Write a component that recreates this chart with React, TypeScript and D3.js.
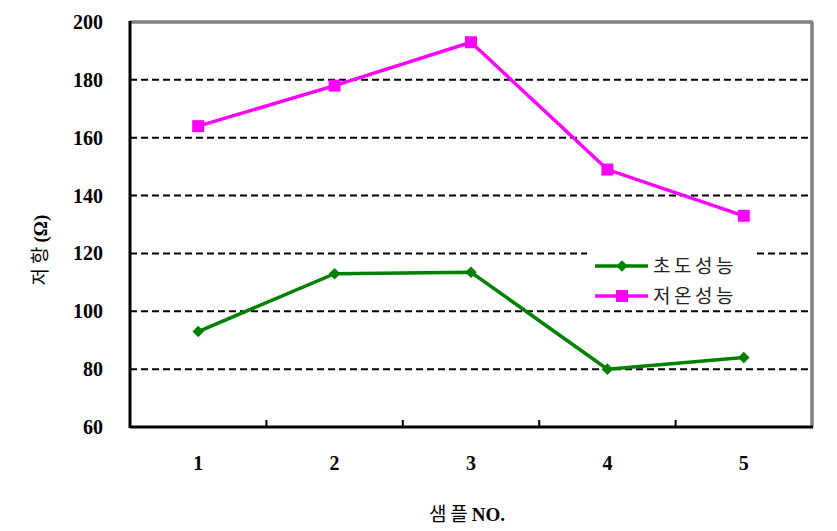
import React from 'react';
import * as d3 from 'd3';

// chart data
const samples = ['1', '2', '3', '4', '5'];
const initialPerf = [93, 113, 113.5, 80, 84];
const lowTempPerf = [164, 178, 193, 149, 133];
const yTicks = [60, 80, 100, 120, 140, 160, 180, 200];
const seriesNames = ['초도성능', '저온성능'];

const W = 837;
const H = 531;
const plot = { left: 130, right: 812, top: 22, bottom: 427 };

const GREEN = '#008000';
const PINK = '#FF00FF';
const serif = '"Liberation Serif", "Times New Roman", serif';
const kr = '"Noto Sans CJK KR", sans-serif';

export default function App() {
  const x = d3.scaleBand<string>().domain(samples).range([plot.left, plot.right]).padding(0);
  const y = d3.scaleLinear().domain([60, 200]).range([plot.bottom, plot.top]);
  const cx = (s: string) => (x(s) || 0) + x.bandwidth() / 2;

  const line = d3
    .line<number>()
    .x((_, i) => cx(samples[i]))
    .y((v) => y(v));

  const diamond = d3.symbol().type(d3.symbolDiamond2).size(85)() || '';
  const square = d3.symbol().type(d3.symbolSquare).size(144)() || '';

  const legendX = 595;
  const legendY = [266, 296];

  return (
    <div style={{ position: 'absolute', left: 0, top: 0 }}>
      <svg width={W} height={H} viewBox={`0 0 ${W} ${H}`} style={{ display: 'block', background: '#fff' }}>
        <rect x={0} y={0} width={W} height={H} fill="#fff" />

        {/* dashed grid */}
        {yTicks
          .filter((t) => t > 60 && t < 200)
          .map((t) => (
            <line
              key={t}
              x1={plot.left}
              x2={plot.right}
              y1={y(t)}
              y2={y(t)}
              stroke="#000"
              strokeWidth={2}
              strokeDasharray="7,4"
            />
          ))}

        {/* legend box (covers grid) */}
        <rect x={587} y={250} width={168} height={58} fill="#fff" />

        {/* plot frame: gray top/right, black axes */}
        <line x1={plot.left} x2={plot.right + 1} y1={plot.top} y2={plot.top} stroke="#808080" strokeWidth={3.5} />
        <line x1={plot.right} x2={plot.right} y1={plot.top} y2={plot.bottom} stroke="#808080" strokeWidth={3.5} />
        <line x1={plot.left} x2={plot.left} y1={plot.top - 1} y2={plot.bottom + 1} stroke="#000" strokeWidth={3} />
        <line x1={plot.left} x2={plot.right + 1} y1={plot.bottom} y2={plot.bottom} stroke="#000" strokeWidth={3} />

        {/* x category ticks */}
        {samples.slice(1).map((s) => (
          <line key={s} x1={x(s)} x2={x(s)} y1={plot.bottom} y2={plot.bottom - 7} stroke="#000" strokeWidth={2} />
        ))}

        {/* y tick labels */}
        {yTicks.map((t) => (
          <text
            key={t}
            x={103}
            y={y(t)}
            dy="0.35em"
            textAnchor="end"
            fontFamily={serif}
            fontWeight="bold"
            fontSize={20}
            fill="#000"
          >
            {t}
          </text>
        ))}

        {/* x tick labels */}
        {samples.map((s) => (
          <text
            key={s}
            x={cx(s)}
            y={470}
            textAnchor="middle"
            fontFamily={serif}
            fontWeight="bold"
            fontSize={20}
            fill="#000"
          >
            {s}
          </text>
        ))}

        {/* series lines */}
        <path d={line(initialPerf) || ''} fill="none" stroke={GREEN} strokeWidth={3.5} />
        <path d={line(lowTempPerf) || ''} fill="none" stroke={PINK} strokeWidth={3.5} />
        {initialPerf.map((v, i) => (
          <path key={'g' + i} d={diamond} transform={`translate(${cx(samples[i])},${y(v)})`} fill={GREEN} />
        ))}
        {lowTempPerf.map((v, i) => (
          <path key={'p' + i} d={square} transform={`translate(${cx(samples[i])},${y(v)})`} fill={PINK} />
        ))}

        {/* legend */}
        {seriesNames.map((name, i) => {
          const color = i === 0 ? GREEN : PINK;
          const ly = legendY[i];
          return (
            <g key={name}>
              <line x1={legendX} x2={legendX + 53} y1={ly} y2={ly} stroke={color} strokeWidth={3.5} />
              <path d={i === 0 ? diamond : square} transform={`translate(${legendX + 27},${ly})`} fill={color} />
              <text
                x={legendX + 58}
                y={ly}
                dy="0.36em"
                fontFamily={kr}
                fontSize={19}
                letterSpacing={3.5}
                fill="#222"
              >
                {name}
              </text>
            </g>
          );
        })}

        {/* axis titles */}
        <text x={467} y={521} textAnchor="middle" fontSize={19} fill="#000">
          <tspan fontFamily={kr} letterSpacing={4}>샘플</tspan>
          <tspan fontFamily={serif} fontWeight="bold">NO.</tspan>
        </text>
        <text
          transform={`translate(47,250) rotate(-90)`}
          textAnchor="middle"
          fontSize={19}
          fill="#000"
        >
          <tspan fontFamily={kr} letterSpacing={4}>저항</tspan>
          <tspan fontFamily={serif} fontWeight="bold">(Ω)</tspan>
        </text>
      </svg>
    </div>
  );
}
